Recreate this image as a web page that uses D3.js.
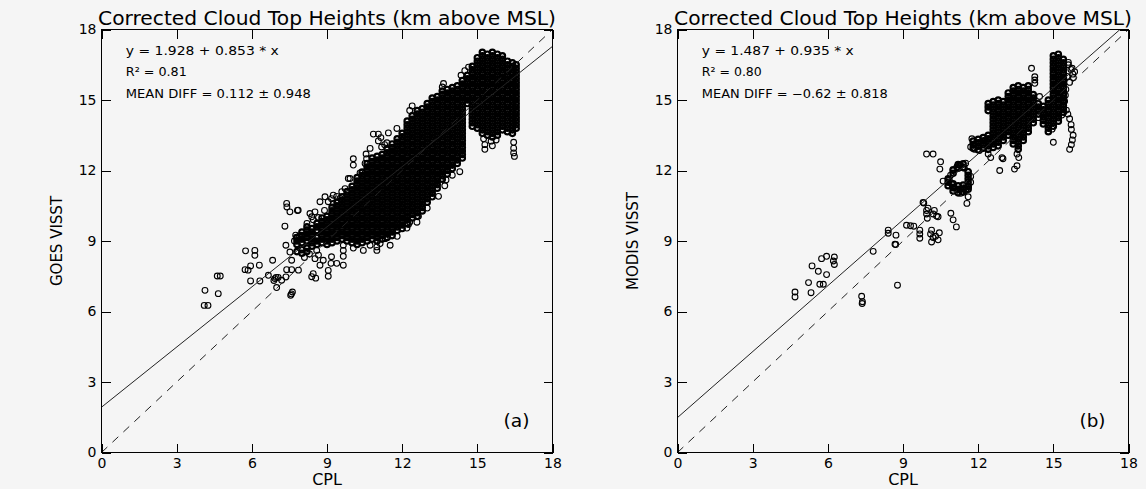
<!DOCTYPE html>
<html><head><meta charset="utf-8">
<script src="https://cdn.jsdelivr.net/npm/d3@7"></script>
<style>
html,body{margin:0;padding:0;background:#f5f5f5;}
svg{display:block;}
text{font-family:"DejaVu Sans","Liberation Sans",sans-serif;fill:#000;}
</style></head><body>
<svg id="c" width="1146" height="489"></svg>
<script>
// ---------- data ----------
const xTicks = [0, 3, 6, 9, 12, 15, 18];
const yTicks = [0, 3, 6, 9, 12, 15, 18];
const titleText = "Corrected Cloud Top Heights (km above MSL)";
const xLabel = "CPL";
const yLabelA = "GOES VISST";
const yLabelB = "MODIS VISST";
const fitA = [1.928, 0.853];
const fitB = [1.487, 0.935];
const statsA = ["y = 1.928 + 0.853 * x", "R\u00B2 = 0.81", "MEAN DIFF = 0.112 \u00B1 0.948"];
const statsB = ["y = 1.487 + 0.935 * x", "R\u00B2 = 0.80", "MEAN DIFF = \u22120.62 \u00B1 0.818"];

// dense point columns, panel (a): [CPL, [GOES VISST values]]
const denseA = [
[7.8,[8.55,8.85,9.0,9.15]],
[8.0,[8.48,8.63,8.93,9.08,9.23,9.38]],
[8.2,[8.55,8.7,9.0,9.15,9.3,9.45,9.6]],
[8.4,[8.78,8.93,9.08,9.23,9.38,9.53]],
[8.6,[8.85,9.0,9.15,9.45,9.6,9.75]],
[8.8,[8.93,9.08,9.23,9.38,9.53,9.68,9.83,9.98]],
[9.0,[8.85,9.0,9.15,9.3,9.45,9.6,9.75,9.9,10.05]],
[9.2,[8.93,9.08,9.23,9.38,9.53,9.68,9.83,9.98,10.13,10.28,10.43]],
[9.4,[9.0,9.15,9.3,9.45,9.6,9.75,9.9,10.05,10.2,10.35,10.5,10.65]],
[9.6,[9.08,9.23,9.38,9.53,9.68,9.83,9.98,10.13,10.28,10.43,10.58,10.73,10.88]],
[9.8,[9.0,9.15,9.3,9.45,9.6,9.75,9.9,10.05,10.2,10.35,10.5,10.65,10.8,10.95,11.1]],
[10.0,[8.93,9.08,9.23,9.38,9.53,9.68,9.83,9.98,10.13,10.28,10.43,10.58,10.73,10.88,11.03,11.18,11.33]],
[10.2,[8.85,9.0,9.15,9.3,9.45,9.6,9.75,9.9,10.05,10.2,10.35,10.5,10.65,10.8,10.95,11.1,11.25,11.4,11.55,11.7]],
[10.4,[8.93,9.08,9.23,9.38,9.53,9.68,9.83,9.98,10.13,10.28,10.43,10.58,10.73,10.88,11.03,11.18,11.33,11.48,11.63,11.78,11.93]],
[10.6,[9.0,9.15,9.3,9.45,9.6,9.75,9.9,10.05,10.2,10.35,10.5,10.65,10.8,10.95,11.1,11.25,11.4,11.55,11.7,11.85,12.0,12.15,12.3]],
[10.8,[9.08,9.23,9.38,9.53,9.68,9.83,9.98,10.13,10.28,10.43,10.58,10.73,10.88,11.03,11.18,11.33,11.48,11.63,11.78,11.93,12.08,12.23,12.38,12.53]],
[11.0,[9.0,9.15,9.3,9.45,9.6,9.75,9.9,10.05,10.2,10.35,10.5,10.65,10.8,10.95,11.1,11.25,11.4,11.55,11.7,11.85,12.0,12.15,12.3,12.45,12.6]],
[11.2,[9.08,9.23,9.38,9.53,9.68,9.83,9.98,10.13,10.28,10.43,10.58,10.73,10.88,11.03,11.18,11.33,11.48,11.63,11.78,11.93,12.08,12.23,12.38,12.53,12.68]],
[11.4,[9.15,9.3,9.45,9.6,9.75,9.9,10.05,10.2,10.35,10.5,10.65,10.8,10.95,11.1,11.25,11.4,11.55,11.7,11.85,12.0,12.15,12.3,12.45,12.6,12.75,12.9]],
[11.6,[9.23,9.38,9.53,9.68,9.83,9.98,10.13,10.28,10.43,10.58,10.73,10.88,11.03,11.18,11.33,11.48,11.63,11.78,11.93,12.08,12.23,12.38,12.53,12.68,12.83,12.98,13.13]],
[11.8,[9.45,9.6,9.75,9.9,10.05,10.2,10.35,10.5,10.65,10.8,10.95,11.1,11.25,11.4,11.55,11.7,11.85,12.0,12.15,12.3,12.45,12.6,12.75,12.9,13.05,13.2,13.35]],
[12.0,[9.53,9.68,9.83,9.98,10.13,10.28,10.43,10.58,10.73,10.88,11.03,11.18,11.33,11.48,11.63,11.78,11.93,12.08,12.23,12.38,12.53,12.68,12.83,12.98,13.13,13.28,13.43,13.58]],
[12.2,[9.75,9.9,10.05,10.2,10.35,10.5,10.65,10.8,10.95,11.1,11.25,11.4,11.55,11.7,11.85,12.0,12.15,12.3,12.45,12.6,12.75,12.9,13.05,13.2,13.35,13.5,13.65,13.8,13.95,14.1]],
[12.4,[9.98,10.13,10.28,10.43,10.58,10.73,10.88,11.03,11.18,11.33,11.48,11.63,11.78,11.93,12.08,12.23,12.38,12.53,12.68,12.83,12.98,13.13,13.28,13.43,13.58,13.73,13.88,14.03,14.18,14.33]],
[12.6,[10.05,10.2,10.35,10.5,10.65,10.8,10.95,11.1,11.25,11.4,11.55,11.7,11.85,12.0,12.15,12.3,12.45,12.6,12.75,12.9,13.05,13.2,13.35,13.5,13.65,13.8,13.95,14.1,14.25,14.4,14.55]],
[12.8,[10.28,10.43,10.58,10.73,10.88,11.03,11.18,11.33,11.48,11.63,11.78,11.93,12.08,12.23,12.38,12.53,12.68,12.83,12.98,13.13,13.28,13.43,13.58,13.73,13.88,14.03,14.18,14.33,14.48,14.63]],
[13.0,[10.65,10.8,10.95,11.1,11.25,11.4,11.55,11.7,11.85,12.0,12.15,12.3,12.45,12.6,12.75,12.9,13.05,13.2,13.35,13.5,13.65,13.8,13.95,14.1,14.25,14.4,14.55,14.7,14.85]],
[13.2,[10.88,11.03,11.18,11.33,11.48,11.63,11.78,11.93,12.08,12.23,12.38,12.53,12.68,12.83,12.98,13.13,13.28,13.43,13.58,13.73,13.88,14.03,14.18,14.33,14.48,14.63,14.78,14.93,15.08]],
[13.4,[11.25,11.4,11.55,11.7,11.85,12.0,12.15,12.3,12.45,12.6,12.75,12.9,13.05,13.2,13.35,13.5,13.65,13.8,13.95,14.1,14.25,14.4,14.55,14.7,14.85,15.0,15.15]],
[13.6,[11.63,11.78,11.93,12.08,12.23,12.38,12.53,12.68,12.83,12.98,13.13,13.28,13.43,13.58,13.73,13.88,14.03,14.18,14.33,14.48,14.63,14.78,14.93,15.08,15.23,15.38]],
[13.8,[11.85,12.0,12.15,12.3,12.45,12.6,12.75,12.9,13.05,13.2,13.35,13.5,13.65,13.8,13.95,14.1,14.25,14.4,14.55,14.7,14.85,15.0,15.15,15.3,15.45]],
[14.0,[12.08,12.23,12.38,12.53,12.68,12.83,12.98,13.13,13.28,13.43,13.58,13.73,13.88,14.03,14.18,14.33,14.48,14.63,14.78,14.93,15.08,15.23,15.38,15.53]],
[14.2,[12.3,12.45,12.6,12.75,12.9,13.05,13.2,13.35,13.5,13.65,13.8,13.95,14.1,14.25,14.4,14.55,14.7,14.85,15.0,15.15,15.3,15.45,15.6]],
[14.4,[12.53,12.68,12.83,12.98,13.13,13.28,13.43,13.58,13.73,13.88,14.03,14.18,14.33,14.48,14.63,14.78,14.93,15.08,15.23,15.38,15.53,15.68,15.83]],
[14.6,[14.85,15.0,15.15,15.3,15.45,15.6,15.75,15.9,16.05]],
[14.8,[13.88,14.03,14.18,14.33,14.48,14.63,14.78,14.93,15.08,15.23,15.38,15.53,15.68,15.83,15.98,16.13,16.28,16.43]],
[15.0,[13.8,13.95,14.1,14.25,14.4,14.55,14.7,14.85,15.0,15.15,15.3,15.45,15.6,15.75,15.9,16.05,16.2,16.35,16.5,16.65,16.8]],
[15.2,[13.58,13.73,13.88,14.03,14.18,14.33,14.48,14.63,14.78,14.93,15.08,15.23,15.38,15.53,15.68,15.83,15.98,16.13,16.28,16.43,16.58,16.73,16.88,17.03]],
[15.4,[13.5,13.65,13.8,13.95,14.1,14.25,14.4,14.55,14.7,14.85,15.0,15.15,15.3,15.45,15.6,15.75,15.9,16.05,16.2,16.35,16.5,16.65,16.8,16.95]],
[15.6,[13.43,13.58,13.73,13.88,14.03,14.18,14.33,14.48,14.63,14.78,14.93,15.08,15.23,15.38,15.53,15.68,15.83,15.98,16.13,16.28,16.43,16.58,16.73,16.88,17.03]],
[15.8,[13.5,13.65,13.8,13.95,14.1,14.25,14.4,14.55,14.7,14.85,15.0,15.15,15.3,15.45,15.6,15.75,15.9,16.05,16.2,16.35,16.5,16.65,16.8,16.95]],
[16.0,[13.73,13.88,14.03,14.18,14.33,14.48,14.63,14.78,14.93,15.08,15.23,15.38,15.53,15.68,15.83,15.98,16.13,16.28,16.43,16.58,16.73,16.88]],
[16.2,[13.65,13.8,13.95,14.1,14.25,14.4,14.55,14.7,14.85,15.0,15.15,15.3,15.45,15.6,15.75,15.9,16.05,16.2,16.35,16.5,16.65]],
[16.4,[13.58,13.73,13.88,14.03,14.18,14.33,14.48,14.63,14.78,14.93,15.08,15.23,15.38,15.53,15.68,15.83,15.98,16.13,16.28,16.43,16.58]],
[16.55,[13.8,13.95,14.1,14.25,14.4,14.55,14.7,14.85,15.0,15.15,15.3,15.45,15.6,15.75,15.9,16.05,16.2,16.35,16.5]]
];

// scattered points, panel (a): [CPL, GOES VISST]
const sparseA = [
[4.13,6.9],[4.1,6.26],[4.25,6.26],[4.66,6.76],[4.62,7.51],[4.74,7.51],
[5.75,8.58],[6.12,8.6],[6.12,8.39],[5.73,7.78],[5.85,7.76],[5.95,7.94],[6.3,7.97],[5.95,7.3],[6.32,7.3],
[6.83,8.18],[6.66,7.54],[6.92,7.4],[6.88,7.32],[6.97,7.45],[7.05,7.45],[6.99,7.02],[7.19,7.33],[7.36,7.47],[7.39,7.78],[7.59,7.78],[7.86,7.76],[7.55,6.69],[7.62,6.83],[7.58,6.75],
[7.32,9.63],[7.39,10.6],[7.52,10.24],[7.82,10.3],[7.4,10.45],[7.85,10.31],[8.39,10.03],
[7.36,8.82],[7.52,8.53],[7.59,8.18],[7.7,9.0],[7.78,9.15],[7.9,9.22],[7.75,9.25],
[8.45,7.61],[8.55,7.42],[8.72,7.97],[8.85,8.18],[9.05,7.75],[9.05,7.5],[9.16,8.05],[9.18,8.33],[9.39,8.05],[9.65,8.35],[9.65,7.97],[8.39,7.48],[8.59,8.6],[8.52,8.25],[8.66,8.4],[8.3,8.45],[8.1,8.3],
[8.66,10.0],[8.32,10.17],[8.52,10.24],[8.72,10.67],[8.92,10.88],[9.05,10.67],[9.25,10.6],[9.39,10.9],[9.18,10.8],[9.52,10.81],[8.45,9.9],[8.2,9.75],[8.9,10.3],
[9.65,8.82],[10.05,8.7],[10.45,8.6],[10.72,8.82],[10.99,8.75],[11.12,8.89],[11.52,8.82],[11.32,9.1],[12.19,9.55],[12.59,9.8],[12.25,9.7],[12.65,10.05],[13.0,10.4],[13.45,10.9],[13.7,11.35],[14.0,11.8],[10.99,8.6],[9.65,8.6],[11.8,9.2],
[10.05,12.23],[9.92,11.66],[9.59,11.1],[9.25,10.95],[10.52,12.3],[10.58,12.5],[10.32,11.9],
[11.79,13.79],[10.85,13.55],[11.05,13.55],[11.05,13.26],[10.72,12.94],[11.39,13.18],[11.18,13.0],[10.05,12.5],[10.56,12.7],[9.85,11.66],[9.72,11.23],
[11.15,13.4],[11.3,13.1],[11.45,13.6],[12.3,14.55],[12.4,14.75],[13.65,15.7],[13.6,15.55],[14.35,16.05],[14.5,16.25],[14.65,16.4],
[15.25,13.35],[15.3,13.1],[15.3,12.9],[15.55,13.25],[15.6,13.05],[15.75,13.3],[16.45,13.2],[16.45,12.95],[16.45,12.75],[16.48,12.6],
[14.3,11.95],[13.4,11.55],[13.75,11.6],[12.2,10.0],[12.3,9.8]
];

// dense point columns, panel (b): [CPL, [MODIS VISST values]]
const denseB = [
[10.8,[11.35,11.5,11.65]],
[11.0,[11.13,11.28,11.43,11.88,12.03]],
[11.2,[11.05,11.2,11.35,12.1,12.25]],
[11.4,[11.08,11.23,11.38,12.13,12.28]],
[11.6,[11.2,11.35,11.5,11.65,11.8,11.95]],
[11.8,[12.95,13.1,13.25]],
[12.0,[12.88,13.03,13.18,13.33]],
[12.2,[12.95,13.1,13.25,13.4]],
[12.4,[12.9,13.05,13.2,13.35,13.5,14.55,14.7,14.85]],
[12.6,[12.98,13.13,13.28,13.43,13.58,13.73,13.88,14.03,14.18,14.33,14.48,14.63,14.78,14.93]],
[12.8,[13.05,13.2,13.35,13.5,13.65,13.8,13.95,14.1,14.25,14.4,14.55,14.7,14.85,15.0]],
[13.0,[13.28,13.43,13.58,13.73,13.88,14.03,14.18,14.33,14.48,14.63,14.78,14.93]],
[13.2,[13.5,13.65,13.8,13.95,14.1,14.25,14.4,14.55,14.7,14.85,15.0,15.15,15.3]],
[13.4,[13.13,13.28,13.43,13.58,13.73,13.88,14.03,14.18,14.33,14.48,14.63,14.78,14.93,15.08,15.23,15.38,15.53]],
[13.6,[12.9,13.05,13.2,13.35,13.5,13.65,13.8,13.95,14.1,14.25,14.4,14.55,14.7,14.85,15.0,15.15,15.3,15.45,15.6]],
[13.8,[13.28,13.43,13.58,13.73,13.88,14.03,14.18,14.33,14.48,14.63,14.78,14.93,15.08,15.23,15.38,15.53]],
[14.0,[13.65,13.8,13.95,14.1,14.25,14.4,14.55,14.7,14.85,15.0,15.15,15.3,15.45,15.6]],
[14.2,[14.03,14.18,14.33,14.48,14.63,14.78,14.93,15.08,15.23]],
[14.4,[14.4,14.55,14.7,14.85]],
[14.6,[13.98,14.13,14.28,14.43,14.58,14.73]],
[14.8,[13.65,13.8,13.95,14.1,14.25,14.4,14.55,14.7,14.85,15.0]],
[15.0,[13.88,14.03,14.18,14.33,14.48,14.63,14.78,14.93,15.08,15.23,15.38,15.53,15.68,15.83,15.98,16.13,16.28,16.43,16.58,16.73,16.88]],
[15.2,[14.1,14.25,14.4,14.55,14.7,14.85,15.0,15.15,15.3,15.45,15.6,15.75,15.9,16.05,16.2,16.35,16.5,16.65,16.8,16.95]],
[15.4,[14.48,14.63,14.78,14.93,15.08,15.23,15.38,15.53,15.68,15.83,15.98,16.13,16.28,16.43,16.58,16.73]]
];

// scattered points, panel (b): [CPL, MODIS VISST]
const sparseB = [
[4.69,6.83],[4.69,6.62],[5.33,6.8],[5.23,7.23],[5.68,7.16],[5.82,7.16],[5.37,7.94],[5.62,7.71],[5.95,7.57],[5.75,8.25],[5.95,8.35],[6.26,8.32],[6.26,8.0],[6.22,8.15],
[7.35,6.65],[7.37,6.34],[7.38,6.42],[8.78,7.12],[7.81,8.56],[8.41,9.46],[8.41,9.33],[8.72,9.25],[8.71,8.85],[9.14,9.67],[9.43,9.63],[9.3,9.65],[9.83,10.62],[9.94,10.3],[9.94,10.15],[9.97,9.97],[9.67,9.46],[9.67,9.3],[9.67,9.12],[10.14,9.46],[10.1,9.3],[10.2,9.15],[10.14,8.96],[10.3,9.2],[10.4,9.05],[10.45,9.35],[10.34,10.06],[10.0,10.4],[10.91,10.18],[11.0,9.9],[11.13,9.6],[8.68,8.86],[9.8,10.64],[10.2,10.15],[10.4,10.03],[10.25,10.3],
[9.94,12.7],[10.2,12.7],[10.5,12.37],[10.47,12.06],[10.6,11.55],
[10.85,11.6],[10.9,11.8],[10.95,11.4],[11.0,12.0],[11.05,11.25],[11.15,12.15],[11.3,12.2],[11.35,11.1],[11.45,12.1],[11.5,11.15],[11.6,11.95],[11.62,11.3],[11.7,11.75],[11.7,11.5],[11.27,12.23],[11.5,12.31],[11.6,10.88],[11.55,10.6],[11.3,11.03],[11.3,11.2],
[11.7,13.0],[11.85,12.9],[12.05,12.85],[12.27,13.29],[11.75,13.35],[12.4,12.7],[12.5,12.55],
[14.13,16.35],[14.26,15.99],[14.26,15.85],[14.26,15.71],[12.99,12.5],[12.86,12.0],[13.45,12.06],[13.55,12.2],[13.55,12.7],[13.62,12.55],[12.95,12.55],[14.4,14.25],[14.45,15.15],
[15.7,16.3],[15.78,16.1],[15.5,15.45],[15.48,15.2],[15.45,14.95],[15.58,14.4],[15.65,14.2],[15.71,13.95],[15.72,13.75],[15.79,13.5],[15.76,13.3],[15.72,13.1],[15.65,12.9],[15.34,14.36],[15.52,14.57],[14.95,13.76],[15.0,13.2],[15.6,16.5],[15.55,16.0],[15.6,16.6],[15.75,16.35],[15.85,16.2],[15.8,15.95],[15.65,15.75]
];

// ---------- layout ----------
const TOP = 29.5, BOTTOM = 452.5;
const panels = [
  {id:"a", x0:101.5, x1:552.5, yLabel:yLabelA, tag:"(a)", fit:fitA, stats:statsA, statW:[153,61,185], dense:denseA, sparse:sparseA},
  {id:"b", x0:677.5, x1:1128.5, yLabel:yLabelB, tag:"(b)", fit:fitB, stats:statsB, statW:[152,60,186], dense:denseB, sparse:sparseB}
];
const FONT = "DejaVu Sans";
const svg = d3.select("#c");
svg.append("rect").attr("width",1146).attr("height",489).attr("fill","#f5f5f5");
const y = d3.scaleLinear().domain([0,18]).range([BOTTOM, TOP]);

panels.forEach(p => {
  const x = d3.scaleLinear().domain([0,18]).range([p.x0, p.x1]);
  const g = svg.append("g");
  const clipId = "clip-" + p.id;
  svg.append("clipPath").attr("id", clipId).append("rect")
    .attr("x", p.x0).attr("y", TOP).attr("width", p.x1 - p.x0).attr("height", BOTTOM - TOP);

  // points: heavily overplotted clusters first, then isolated ones
  const densePts = [];
  p.dense.forEach(([cx, ys]) => ys.forEach(v => densePts.push([cx, v])));
  const pg = g.append("g").attr("clip-path", `url(#${clipId})`);
  pg.append("g").selectAll("circle").data(densePts).join("circle")
    .attr("cx", d => x(d[0])).attr("cy", d => y(d[1])).attr("r", 2.7)
    .attr("fill", "none").attr("stroke", "#000").attr("stroke-width", 2.2);
  pg.append("g").selectAll("circle").data(p.sparse).join("circle")
    .attr("cx", d => x(d[0])).attr("cy", d => y(d[1])).attr("r", 2.9)
    .attr("fill", "none").attr("stroke", "#000").attr("stroke-width", 1.1);

  // lines
  const line = d3.line().x(d => x(d[0])).y(d => y(d[1]));
  const lg = g.append("g").attr("clip-path", `url(#${clipId})`);
  lg.append("path").attr("d", line([[0, p.fit[0]], [18, p.fit[0] + 18 * p.fit[1]]]))
    .attr("fill", "none").attr("stroke", "#222").attr("stroke-width", 1);
  lg.append("path").attr("d", line([[0, 0], [18, 18]]))
    .attr("fill", "none").attr("stroke", "#222").attr("stroke-width", 1).attr("stroke-dasharray", "8,7");

  // axes (ticks pointing inward)
  const styleAxis = s => {
    s.select(".domain").remove();
    s.selectAll("line").attr("stroke", "#000").attr("shape-rendering", "crispEdges");
    s.attr("font-family", FONT).attr("font-size", 14);
    s.selectAll("text").attr("fill", "#000");
  };
  g.append("g").attr("transform", `translate(0,${BOTTOM})`)
    .call(d3.axisBottom(x).tickValues(xTicks).tickSize(-9).tickPadding(6).tickFormat(d3.format("d"))).call(styleAxis);
  g.append("g").attr("transform", `translate(0,${TOP})`)
    .call(d3.axisTop(x).tickValues(xTicks).tickSize(-9).tickFormat("")).call(styleAxis);
  g.append("g").attr("transform", `translate(${p.x0},0)`)
    .call(d3.axisLeft(y).tickValues(yTicks).tickSize(-9).tickPadding(5).tickFormat(d3.format("d"))).call(styleAxis);
  g.append("g").attr("transform", `translate(${p.x1},0)`)
    .call(d3.axisRight(y).tickValues(yTicks).tickSize(-9).tickFormat("")).call(styleAxis);

  // frame
  g.append("rect").attr("x", p.x0).attr("y", TOP).attr("width", p.x1 - p.x0).attr("height", BOTTOM - TOP)
    .attr("fill", "none").attr("stroke", "#000").attr("stroke-width", 1).attr("shape-rendering", "crispEdges");

  const cx = (p.x0 + p.x1) / 2;
  g.append("text").attr("x", cx).attr("y", 25).attr("text-anchor", "middle")
    .attr("font-size", 20).attr("textLength", 458).attr("lengthAdjust", "spacingAndGlyphs").text(titleText);
  g.append("text").attr("x", cx).attr("y", 485).attr("text-anchor", "middle").attr("font-size", 16).text(xLabel);
  g.append("text").attr("transform", `translate(${p.x0 - 39.5},${(TOP + BOTTOM) / 2}) rotate(-90)`)
    .attr("text-anchor", "middle").attr("font-size", 15).text(p.yLabel);
  const base = [54.5, 76.2, 98];
  p.stats.forEach((s, i) => {
    g.append("text").attr("x", p.x0 + 24.3).attr("y", base[i]).attr("font-size", 12)
      .attr("textLength", p.statW[i]).attr("lengthAdjust", "spacingAndGlyphs").text(s);
  });
  g.append("text").attr("x", p.x1 - 36).attr("y", 427).attr("text-anchor", "middle")
    .attr("font-size", 17).attr("textLength", 26).attr("lengthAdjust", "spacingAndGlyphs").text(p.tag);
});
</script>
</body></html>
